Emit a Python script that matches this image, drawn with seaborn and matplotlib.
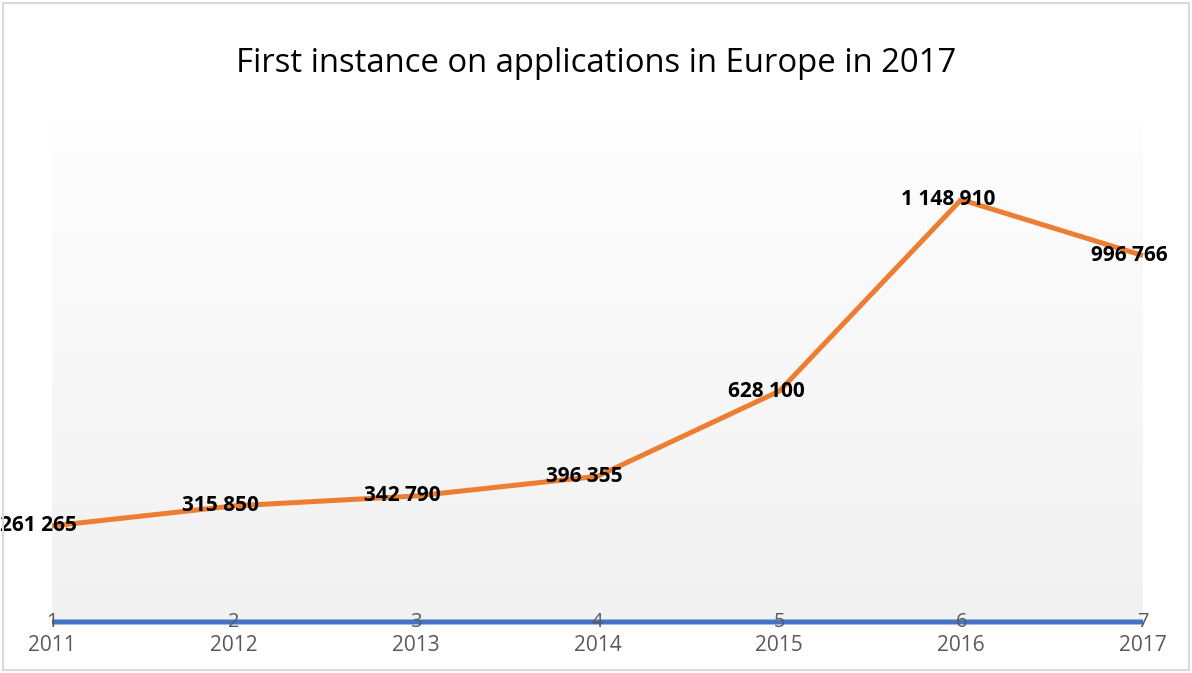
import numpy as np
import pandas as pd
import matplotlib
matplotlib.use("Agg")
import matplotlib.pyplot as plt
from matplotlib.patches import Rectangle
import seaborn as sns

# Data
years = [2011, 2012, 2013, 2014, 2015, 2016, 2017]
index_values = [1, 2, 3, 4, 5, 6, 7]
applications = [261265, 315850, 342790, 396355, 628100, 1148910, 996766]

title = "First instance on applications in Europe in 2017"

sns.set_theme(style="white")
plt.rcParams["font.family"] = ["Open Sans", "DejaVu Sans"]

W, H = 1192, 673
fig = plt.figure(figsize=(W / 100, H / 100), dpi=100)
fig.patch.set_facecolor("white")

# Plot area in pixel coordinates
left_px, right_px, top_px, bottom_px = 52, 1143, 125, 622
ax = fig.add_axes([left_px / W, (H - bottom_px) / H,
                   (right_px - left_px) / W, (bottom_px - top_px) / H])

df = pd.DataFrame({
    "year": years * 2,
    "value": index_values + applications,
    "series": ["index"] * len(years) + ["applications"] * len(years),
})

sns.lineplot(data=df, x="year", y="value", hue="series",
             palette={"index": "#4472C4", "applications": "#ED7D31"},
             linewidth=3.6, legend=False, ax=ax, clip_on=False,
             solid_capstyle="butt", zorder=3)

ax.set_xlim(years[0], years[-1])
ax.set_ylim(0, 1352000)

# Vertical gradient background of the plot area
grad = np.linspace(0, 1, 256).reshape(-1, 1)
top_c = np.array([0.995, 0.995, 0.995])
bot_c = np.array([0.945, 0.945, 0.945])
img = top_c + (bot_c - top_c) * grad[..., None] * np.ones((1, 1, 3))
ax.imshow(img, extent=[years[0], years[-1], 0, 1352000], aspect="auto",
          origin="upper", zorder=0)

for s in ax.spines.values():
    s.set_visible(False)
ax.set_xticks([])
ax.set_yticks([])
ax.set_xlabel("")
ax.set_ylabel("")
ax.grid(False)

# Data labels on the applications line (nudged slightly left of each point)
for x, v in zip(years, applications):
    ax.annotate(f"{v:,}".replace(",", " "), xy=(x, v), xytext=(-9.5, 0),
                textcoords="offset points", ha="center", va="center",
                fontsize=15, fontweight="bold", color="black", zorder=5,
                annotation_clip=False)

# Index labels and year category labels
for x, i in zip(years, index_values):
    ax.text(x, i, str(i), ha="center", va="center", fontsize=14.5,
            color="#595959", zorder=5, clip_on=False)
    ax.annotate(str(x), xy=(x, 0), xytext=(0, -17), textcoords="offset points",
                ha="center", va="center", fontsize=15, color="#595959",
                annotation_clip=False)

fig.text(0.5, (H - 64) / H, title, ha="center", va="center",
         fontsize=23.7, color="black")

# Chart border
fig.patches.append(Rectangle((3 / W, 3 / H), (W - 6) / W, (H - 6) / H,
                             transform=fig.transFigure, fill=False,
                             edgecolor="#d9d9d9", linewidth=1.5))

fig.savefig("out.png", dpi=100, facecolor="white")
